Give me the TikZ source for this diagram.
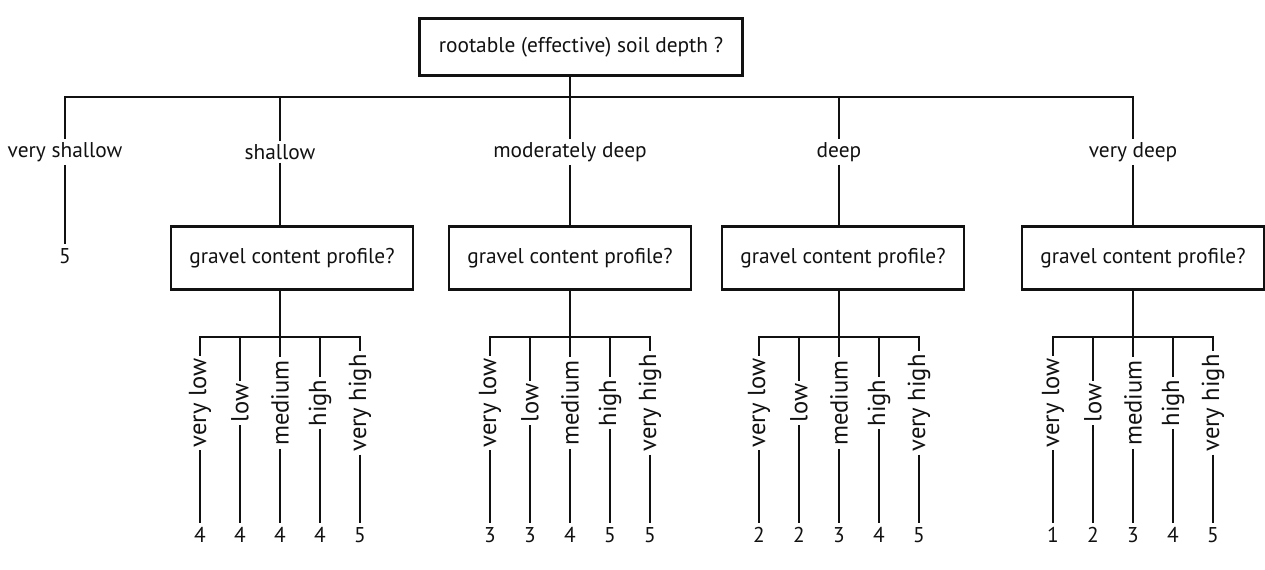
\documentclass[tikz,border=0pt]{standalone}
\usepackage{fontspec}
\setmainfont{PT Sans}
\usetikzlibrary{calc}
\definecolor{CInk}{HTML}{111111}
\newcommand{\qfont}{\fontsize{15.2}{17}\selectfont}
\newcommand{\rfont}{\fontsize{17.5}{19}\selectfont}

\tikzset{
  question/.style={draw=CInk, line width=1.6pt, minimum width=6.05cm, minimum height=1.575cm, font=\qfont, text=CInk},
  depthlabel/.style={font=\qfont, text=CInk, inner sep=2pt},
  gravlabel/.style={font=\rfont, text=CInk, rotate=90, inner sep=2pt},
  score/.style={font=\qfont, text=CInk, inner sep=3pt},
  stem/.style={draw=CInk, line width=1.1pt},
  bar/.style={draw=CInk, line width=1.7pt, line cap=rect},
}

\begin{document}
\begin{tikzpicture}[x=0.025cm, y=-0.025cm]
    \useasboundingbox (0,0) rectangle (1265,570);

    % --- 1. ROOT QUESTION ---
    \node[question, minimum width=8.075cm, minimum height=1.425cm] (root) at (581,47)
        {rootable (effective) soil depth ?};

    % --- 2. DEPTH CLASSES ---
    \foreach \n/\x/\txt in {1/65/very shallow, 2/280/shallow, 3/570/moderately deep, 4/839/deep, 5/1133/very deep} {
        \coordinate (b\n) at (\x,97);
        \node[depthlabel] (d\n) at (\x,152) {\txt};
        \draw[stem] (b\n) -- (d\n.north);
    }
    \draw[bar] (b1) -- (b5);
    \draw[stem] (root.south -| b3) -- (b3);

    % very shallow ends directly in a score
    \node[score] (v1) at (65,256) {5};
    \draw[stem] (d1.south) -- (v1.north);

    % --- 3. GRAVEL CONTENT SUBTREES ---
    \foreach \n/\bx/\va/\vb/\vc/\vd/\ve in {2/292/4/4/4/4/5, 3/570/3/3/4/5/5, 4/843/2/2/3/4/5, 5/1143/1/2/3/4/5} {
        \node[question] (g\n) at (\bx,258) {gravel content profile?};
        \draw[stem] (d\n.south) -- (d\n.south |- g\n.north);
        \path (b\n) ++(0,240) coordinate (s\n);
        \draw[stem] (g\n.south -| s\n) -- (s\n);
        \draw[bar] ($(s\n)+(-80,0)$) -- ($(s\n)+(80,0)$);
        \foreach \lab/\v [count=\k] in {very low/\va, low/\vb, medium/\vc, high/\vd, very high/\ve} {
            \pgfmathsetmacro\dx{(\k-3)*40}
            \coordinate (t\n-\k) at ($(s\n)+(\dx,0)$);
            \node[gravlabel] (c\n-\k) at ($(t\n-\k)+(0,66)$) {\lab};
            \node[score] (v\n-\k) at ($(t\n-\k)+(0,198)$) {\v};
            \draw[stem] (t\n-\k) -- (c\n-\k.east);
            \draw[stem] (c\n-\k.west) -- (v\n-\k.north);
        }
    }

\end{tikzpicture}
\end{document}
